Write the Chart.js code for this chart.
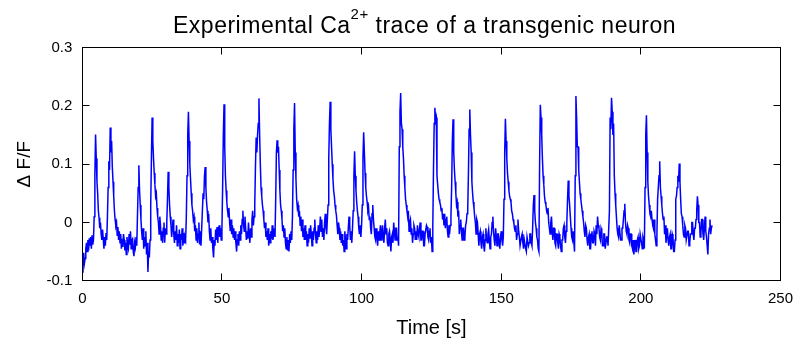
<!DOCTYPE html>
<html>
<head>
<meta charset="utf-8">
<script src="https://cdn.jsdelivr.net/npm/chart.js@4.4.1/dist/chart.umd.min.js"></script>
<style>
  html, body { margin: 0; padding: 0; background: #fff; overflow: hidden; }
  #wrap { position: relative; width: 802px; height: 349px; }
  #title {
    position: absolute; top: 13.8px; left: 424.5px; transform: translateX(-50%);
    white-space: nowrap; color: #000; letter-spacing: 0.5px;
    font: 23px/23px "Liberation Sans", Arial, Helvetica, sans-serif;
  }
  #title .sup { font-size: 15px; position: relative; top: -14px; }
  canvas { position: absolute; left: 0; top: 0; }
</style>
</head>
<body>
<div id="wrap">
  <canvas id="trace" width="802" height="349"></canvas>
  <div id="title">Experimental Ca<span class="sup">2+</span> trace of a transgenic neuron</div>
</div>
<script>
// Delta F/F, one sample every 0.25 s from t = 0 (one row = 5 s)
const sampleStep = 0.25;
const dff = [
  -0.085, -0.066, -0.052, -0.070, -0.062, -0.045, -0.035, -0.050, -0.030, -0.048, -0.027, -0.040, -0.025, -0.045, -0.022, -0.038, -0.030, 0.010, 0.080, 0.151,
  0.110, 0.070, 0.050, 0.020, 0.008, -0.010, 0.000, -0.020, -0.030, -0.012, -0.028, -0.045, -0.025, -0.040, -0.018, -0.030, 0.010, 0.060, 0.105, 0.090,
  0.163, 0.120, 0.140, 0.095, 0.070, 0.045, 0.020, 0.005, -0.005, 0.000, -0.022, -0.008, -0.030, -0.015, -0.035, -0.020, -0.045, -0.028, -0.042, -0.020,
  -0.030, -0.048, -0.035, -0.055, -0.025, -0.040, -0.045, -0.020, -0.038, -0.015, -0.045, -0.030, -0.028, -0.050, -0.058, -0.035, -0.042, -0.025, -0.040, 0.010,
  0.060, 0.098, 0.055, 0.030, 0.005, -0.015, -0.030, -0.010, -0.045, -0.025, -0.040, -0.015, -0.055, -0.035, -0.085, -0.050, -0.060, -0.030, 0.030, 0.110,
  0.180, 0.140, 0.110, 0.085, 0.065, 0.045, 0.050, 0.025, 0.010, 0.000, -0.020, 0.010, -0.005, -0.030, -0.015, -0.035, -0.010, 0.000, -0.035, -0.010,
  -0.020, 0.000, 0.040, 0.087, 0.060, 0.030, 0.010, -0.005, -0.025, -0.008, 0.005, -0.020, -0.035, -0.015, -0.030, -0.005, -0.040, -0.020, -0.035, -0.012,
  -0.045, -0.020, -0.030, -0.010, -0.040, -0.018, -0.035, -0.025, -0.030, 0.010, 0.080, 0.150, 0.190, 0.140, 0.100, 0.075, 0.050, 0.030, 0.020, 0.005,
  0.010, -0.015, -0.005, -0.030, -0.010, -0.035, -0.020, 0.000, -0.038, -0.015, -0.040, -0.010, 0.020, 0.050, 0.040, 0.080, 0.095, 0.060, 0.035, 0.020,
  0.000, 0.015, -0.015, -0.030, -0.010, -0.035, -0.025, -0.045, -0.060, -0.030, -0.040, -0.012, -0.030, -0.008, -0.035, -0.015, -0.005, -0.025, -0.010, -0.030,
  -0.010, 0.060, 0.150, 0.203, 0.130, 0.080, 0.055, 0.035, 0.020, 0.010, 0.025, 0.000, -0.015, 0.005, -0.020, -0.005, -0.025, -0.010, -0.030, -0.015,
  -0.035, -0.050, -0.030, -0.020, -0.040, -0.015, -0.030, -0.005, -0.020, 0.005, 0.020, -0.005, -0.015, 0.010, -0.010, -0.030, -0.015, -0.028, 0.000, -0.020,
  -0.035, -0.010, -0.025, 0.005, 0.020, -0.005, 0.010, 0.030, 0.095, 0.146, 0.120, 0.150, 0.170, 0.213, 0.150, 0.100, 0.060, 0.045, 0.030, 0.020,
  0.005, -0.010, 0.000, -0.025, -0.015, -0.030, -0.010, -0.040, -0.020, -0.035, -0.015, -0.028, -0.005, -0.030, -0.020, -0.010, -0.025, 0.040, 0.120, 0.141,
  0.120, 0.130, 0.090, 0.055, 0.030, 0.020, 0.005, -0.015, -0.005, -0.025, -0.010, -0.035, -0.045, -0.025, -0.048, -0.030, -0.050, -0.020, -0.035, -0.015,
  -0.030, 0.010, 0.090, 0.160, 0.205, 0.120, 0.075, 0.040, 0.025, 0.030, 0.010, 0.020, -0.005, 0.010, -0.015, 0.005, -0.025, -0.010, -0.030, -0.005,
  -0.030, -0.015, -0.040, -0.020, -0.035, -0.010, -0.028, -0.005, -0.020, -0.040, -0.015, -0.030, -0.010, 0.005, -0.020, -0.035, -0.015, -0.030, -0.005, -0.025,
  -0.010, 0.010, -0.015, 0.005, -0.025, -0.010, -0.030, 0.000, 0.015, -0.010, -0.020, 0.005, 0.030, 0.110, 0.170, 0.207, 0.160, 0.130, 0.100, 0.075,
  0.055, 0.045, 0.030, 0.020, 0.012, -0.005, -0.020, 0.000, -0.010, -0.030, -0.015, -0.035, -0.020, -0.040, -0.030, -0.050, -0.015, -0.030, -0.045, -0.020,
  -0.030, -0.010, 0.010, -0.005, -0.030, -0.015, -0.035, -0.010, 0.020, 0.080, 0.122, 0.080, 0.055, 0.035, 0.020, 0.010, -0.010, -0.020, -0.005, -0.025,
  -0.005, 0.030, 0.110, 0.155, 0.120, 0.085, 0.060, 0.045, 0.035, 0.020, 0.025, 0.005, 0.010, -0.010, -0.020, 0.015, 0.030, 0.005, -0.010, -0.025,
  -0.030, -0.010, -0.025, -0.040, -0.015, -0.030, -0.018, -0.005, -0.030, -0.015, -0.005, -0.025, -0.035, -0.010, 0.005, -0.020, -0.010, -0.035, -0.040, -0.020,
  -0.015, -0.030, -0.050, -0.025, -0.020, -0.035, 0.000, -0.015, -0.030, -0.010, -0.010, -0.030, -0.025, -0.040, 0.130, 0.190, 0.222, 0.170, 0.160, 0.130,
  0.110, 0.080, 0.060, 0.040, 0.030, 0.020, 0.010, 0.020, -0.015, 0.000, 0.005, -0.020, -0.010, -0.035, -0.020, -0.005, -0.010, -0.030, -0.015, -0.030,
  -0.005, -0.020, -0.025, -0.010, 0.000, -0.030, -0.030, -0.015, -0.015, -0.040, -0.040, -0.020, -0.020, -0.005, -0.008, -0.025, -0.030, -0.015, -0.010, -0.035,
  -0.025, -0.050, -0.010, 0.090, 0.170, 0.197, 0.175, 0.180, 0.080, 0.065, 0.050, 0.040, 0.035, 0.030, 0.020, 0.025, 0.005, 0.015, -0.005, 0.015,
  -0.010, 0.005, 0.010, -0.015, -0.025, -0.005, -0.020, -0.005, 0.010, 0.060, 0.140, 0.177, 0.120, 0.090, 0.070, 0.050, 0.030, 0.035, 0.010, 0.020,
  -0.020, -0.005, 0.005, -0.015, -0.030, -0.010, -0.010, -0.030, -0.025, -0.005, 0.000, 0.015, 0.020, 0.080, 0.160, 0.194, 0.150, 0.120, 0.070, 0.050,
  0.035, 0.025, 0.010, 0.000, -0.020, 0.005, 0.000, -0.020, -0.040, -0.020, -0.015, -0.035, -0.045, -0.025, -0.020, -0.040, -0.050, -0.030, -0.010, -0.030,
  -0.035, -0.020, -0.012, -0.030, -0.045, -0.025, -0.020, 0.000, 0.010, -0.015, -0.030, -0.040, -0.010, -0.025, -0.040, -0.020, -0.020, -0.035, -0.045, -0.025,
  -0.015, -0.030, -0.040, -0.025, 0.040, 0.120, 0.178, 0.140, 0.110, 0.085, 0.070, 0.055, 0.045, 0.040, 0.035, 0.020, 0.015, 0.005, 0.000, -0.010,
  -0.015, -0.005, -0.030, -0.020, 0.005, -0.015, -0.025, -0.040, -0.040, -0.025, -0.020, -0.035, -0.045, -0.030, -0.030, -0.045, -0.050, -0.025, -0.025, -0.040,
  -0.035, -0.020, -0.020, -0.035, -0.040, -0.010, 0.030, 0.047, 0.020, 0.000, -0.010, -0.025, -0.030, -0.045, -0.050, 0.100, 0.202, 0.180, 0.150, 0.110,
  0.080, 0.065, 0.045, 0.035, 0.030, 0.020, 0.015, 0.025, 0.000, -0.010, -0.020, 0.000, 0.010, -0.015, -0.030, -0.010, -0.010, -0.035, -0.040, -0.020,
  -0.020, -0.035, -0.045, -0.020, -0.025, -0.040, -0.050, -0.030, -0.030, -0.010, -0.005, -0.025, -0.035, -0.015, 0.000, 0.040, 0.072, 0.045, 0.030, 0.010,
  -0.010, -0.025, -0.030, -0.015, -0.015, -0.050, 0.080, 0.217, 0.180, 0.130, 0.130, 0.090, 0.070, 0.050, 0.040, 0.030, 0.020, 0.010, 0.000, -0.015,
  -0.025, -0.005, -0.010, -0.030, -0.040, -0.025, -0.020, -0.045, -0.045, -0.020, -0.015, -0.035, -0.035, -0.015, -0.020, -0.040, -0.005, -0.020, 0.010, -0.005,
  -0.010, -0.025, -0.030, -0.010, -0.015, -0.040, -0.040, -0.020, -0.020, -0.045, -0.045, -0.025, -0.025, -0.040, -0.040, 0.020, 0.180, 0.160, 0.214, 0.190,
  0.150, 0.170, 0.080, 0.050, 0.030, 0.010, -0.010, -0.020, -0.025, -0.005, -0.005, -0.030, -0.030, -0.010, -0.010, 0.005, 0.020, 0.032, 0.000, -0.015,
  -0.020, -0.005, -0.010, -0.030, -0.035, -0.020, -0.020, -0.040, -0.045, -0.030, -0.055, -0.040, -0.030, -0.050, -0.050, -0.030, -0.025, -0.045, -0.040, -0.020,
  -0.020, -0.035, -0.045, -0.025, -0.030, -0.045, 0.060, 0.150, 0.184, 0.120, 0.070, 0.045, 0.030, 0.015, 0.010, 0.020, 0.005, -0.005, -0.010, 0.005,
  -0.020, -0.030, -0.040, -0.020, 0.040, 0.060, 0.080, 0.105, 0.060, 0.045, 0.030, 0.015, 0.005, 0.010, -0.020, -0.005, -0.035, -0.020, -0.010, -0.030,
  -0.040, -0.025, -0.020, -0.045, -0.045, -0.020, -0.025, -0.050, -0.050, -0.030, 0.040, 0.045, 0.060, 0.080, 0.070, 0.101, 0.070, 0.040, 0.015, 0.010,
  -0.005, -0.020, -0.025, -0.005, -0.010, -0.030, -0.030, -0.015, -0.015, -0.040, -0.035, -0.020, -0.020, 0.000, 0.000, -0.020, -0.030, -0.010, -0.010, 0.005,
  0.020, 0.045, 0.030, 0.000, 0.000, -0.025, -0.020, 0.005, 0.005, -0.020, -0.030, -0.010, 0.010, -0.015, -0.025, -0.040, -0.055, -0.020, -0.010, 0.005,
  -0.020, -0.010, -0.005
];

const xTicks = [0, 50, 100, 150, 200, 250];
const yTicks = [-0.1, 0, 0.1, 0.2, 0.3];

const points = dff.map((v, i) => ({ x: i * sampleStep, y: v }));

const font = 'Liberation Sans, Arial, Helvetica, sans-serif';

// box round the plot with short inward ticks on every side
const framePlugin = {
  id: 'frame',
  afterDraw(chart) {
    const { ctx, chartArea: a, scales } = chart;
    const L = Math.floor(a.left) + 0.5, R = Math.floor(a.right) + 0.5;
    const T = Math.floor(a.top) + 0.5, B = Math.floor(a.bottom) + 0.5;
    const len = 7;
    ctx.save();
    ctx.strokeStyle = '#000';
    ctx.lineWidth = 1;
    ctx.strokeRect(L, T, R - L, B - T);
    ctx.beginPath();
    xTicks.forEach(v => {
      const px = Math.floor(scales.x.getPixelForValue(v)) + 0.5;
      ctx.moveTo(px, B); ctx.lineTo(px, B - len);
      ctx.moveTo(px, T); ctx.lineTo(px, T + len);
    });
    yTicks.forEach(v => {
      const py = Math.floor(scales.y.getPixelForValue(v)) + 0.5;
      ctx.moveTo(L, py); ctx.lineTo(L + len, py);
      ctx.moveTo(R, py); ctx.lineTo(R - len, py);
    });
    ctx.stroke();
    ctx.restore();
  }
};

new Chart(document.getElementById('trace'), {
  type: 'line',
  data: {
    datasets: [{
      data: points,
      borderColor: 'rgb(0, 0, 255)',
      borderWidth: 1.5,
      pointRadius: 0,
      tension: 0,
      fill: false
    }]
  },
  options: {
    responsive: false,
    animation: false,
    devicePixelRatio: 1,
    layout: { padding: { top: 47.7, right: 16, left: 0, bottom: 0 } },
    plugins: {
      legend: { display: false },
      tooltip: { enabled: false }
    },
    scales: {
      x: {
        type: 'linear',
        min: 0,
        max: 250,
        afterBuildTicks: s => { s.ticks = xTicks.map(v => ({ value: v })); },
        afterFit: s => { s.height = 68.3; },
        grid: { display: false, drawTicks: false },
        border: { display: false },
        ticks: {
          color: '#000',
          font: { family: font, size: 15 },
          padding: 9,
          maxRotation: 0,
          callback: v => String(v)
        },
        title: {
          display: true,
          text: 'Time [s]',
          color: '#000',
          font: { family: font, size: 20 },
          padding: { top: 0, bottom: 9 }
        }
      },
      y: {
        min: -0.1,
        max: 0.3,
        afterBuildTicks: s => { s.ticks = yTicks.map(v => ({ value: v })); },
        afterFit: s => { s.width = 82.3; },
        grid: { display: false, drawTicks: false },
        border: { display: false },
        ticks: {
          color: '#000',
          font: { family: font, size: 15 },
          padding: 10,
          callback: v => String(v)
        },
        title: {
          display: true,
          text: 'Δ F/F',
          color: '#000',
          font: { family: font, size: 19 },
          padding: { top: 13, bottom: 0 }
        }
      }
    }
  },
  plugins: [framePlugin]
});
</script>
</body>
</html>
